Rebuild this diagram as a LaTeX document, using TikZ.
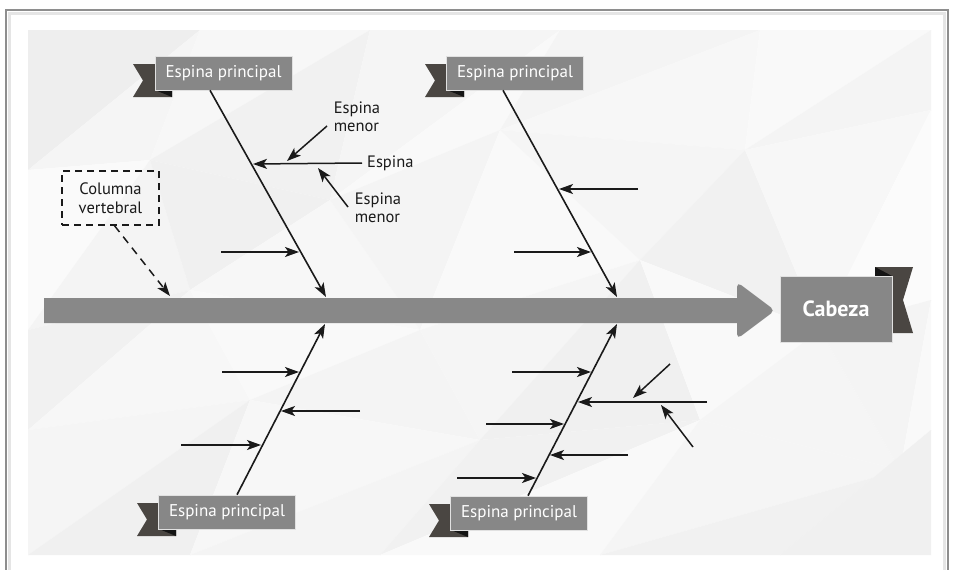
\documentclass[tikz,border=0pt]{standalone}
\usepackage{fontspec}
\setmainfont{PT Sans}
\usetikzlibrary{arrows.meta}

\definecolor{boxgray}{HTML}{878787}
\definecolor{tailgray}{HTML}{4A4642}
\definecolor{foldblack}{HTML}{141414}
\definecolor{bargray}{HTML}{888888}
\definecolor{framegray}{HTML}{8E8E8E}
\definecolor{inkc}{HTML}{1A1A1A}

\tikzset{
  lbl/.style={fill=boxgray, draw=white!75!boxgray, line width=0.6pt, text=white,
    font=\fontsize{17}{20}\selectfont, minimum width=137pt, minimum height=34pt, inner sep=0pt},
  headbox/.style={fill=boxgray, draw=white!75!boxgray, line width=0.6pt, text=white,
    font=\fontsize{22}{26}\selectfont\bfseries, minimum width=112pt, minimum height=66pt, inner sep=0pt},
  tip/.style={-{Stealth[length=14pt,width=10pt,inset=3.5pt]}},
  bone/.style={tip, line width=1.6pt, draw=inkc},
  minor/.style={tip, line width=1.5pt, draw=inkc},
  note/.style={font=\fontsize{16.5}{18}\selectfont, inner sep=0pt, align=left, text=inkc},
}

% ribbon tail left of a label box: #1 box left x, #2 box top y, #3 box bottom y
\newcommand\ribbontail[3]{%
  \fill[tailgray] (#1-22,#2+8) -- (#1+17,#2+8) -- (#1+17,#3+7) -- (#1-22,#3+7)
    -- (#1-12,{(#2+#3)/2+7.5}) -- cycle;
  \fill[foldblack] (#1,#3) -- (#1+17,#3) -- (#1+17,#3+7) -- cycle;}

\begin{document}
\begin{tikzpicture}[x=1pt,y=-1pt]
\useasboundingbox (0,0) rectangle (953,570);
\fill[white] (0,0) rectangle (953,570);

% page frame, open at the bottom
\draw[black!10, line width=2.5pt] (9.5,580) -- (9.5,13.5) -- (944.5,13.5) -- (944.5,580);
\draw[framegray, line width=1.5pt] (6,580) -- (6,10) -- (948,10) -- (948,580);

% low-poly background panel
\coordinate (A0) at (28,30);  \coordinate (A1) at (200,30);  \coordinate (A2) at (370,30);
\coordinate (A3) at (560,30); \coordinate (A4) at (760,30);  \coordinate (A5) at (931,30);
\coordinate (B0) at (28,170); \coordinate (B1) at (150,160); \coordinate (B2) at (330,200);
\coordinate (B3) at (500,130);\coordinate (B4) at (745,150); \coordinate (B5) at (931,110);
\coordinate (C0) at (28,330); \coordinate (C1) at (190,290); \coordinate (C2) at (420,330);
\coordinate (C3) at (640,260);\coordinate (C4) at (820,330); \coordinate (C5) at (931,300);
\coordinate (D0) at (28,430); \coordinate (D1) at (250,400); \coordinate (D2) at (480,440);
\coordinate (D3) at (700,420);\coordinate (D4) at (900,470); \coordinate (D5) at (931,430);
\coordinate (E0) at (28,555); \coordinate (E1) at (190,555); \coordinate (E2) at (380,555);
\coordinate (E3) at (600,555);\coordinate (E4) at (780,555); \coordinate (E5) at (931,555);
\begin{scope}
\clip (28,30) rectangle (931,555);
\foreach \p/\q/\r/\s in {
  A0/A1/B0/6.5, A1/B1/B0/4, A1/A2/B1/3, A2/B2/B1/5.5, A2/A3/B2/4, A3/B3/B2/2.5,
  A3/A4/B3/4.5, A4/B4/B3/3, A4/A5/B4/2.5, A5/B5/B4/4.5,
  B0/B1/C0/2, B1/C1/C0/4.5, B1/B2/C1/6, B2/C2/C1/3, B2/B3/C2/4.5, B3/C3/C2/2.5,
  B3/B4/C3/4, B4/C4/C3/5.5, B4/B5/C4/3, B5/C5/C4/1.5,
  C0/C1/D0/5.5, C1/D1/D0/3, C1/C2/D1/2.5, C2/D2/D1/4.5, C2/C3/D2/4, C3/D3/D2/6,
  C3/C4/D3/2.5, C4/D4/D3/4, C4/C5/D4/4.5, C5/D5/D4/2.5,
  D0/D1/E0/4, D1/E1/E0/6, D1/D2/E1/3, D2/E2/E1/4.5, D2/D3/E2/5.5, D3/E3/E2/2.5,
  D3/D4/E3/4, D4/E4/E3/5.5, D4/D5/E4/3, D5/E5/E4/6}
  \fill[black!\s] (\p) -- (\q) -- (\r) -- cycle;
\end{scope}

% spine arrow
\fill[bargray] (44,298) -- (737,298) [rounded corners=5pt] -- (737,282) -- (775,310.5)
  -- (737,339) [sharp corners] -- (737,323) -- (44,323) -- cycle;

% label ribbons and boxes
\ribbontail{155}{56}{90}
\ribbontail{447}{56}{90}
\ribbontail{159}{495}{529}
\ribbontail{451}{496}{530}
\node[lbl] (p1) at (223.5,73) {Espina principal};
\node[lbl] (p2) at (515,73) {Espina principal};
\node[lbl] (p3) at (227,512) {Espina principal};
\node[lbl] (p4) at (519,513) {Espina principal};

% head ribbon and box
\fill[tailgray] (875,267) -- (913,267) -- (903,300) -- (913,333) -- (875,333) -- cycle;
\fill[foldblack] (892,276) -- (875,276) -- (875,267) -- cycle;
\node[headbox] (hd) at (836,309) {Cabeza};

% spine callout
\node[draw=inkc, dash pattern=on 7pt off 5pt, line width=1.4pt, minimum width=97pt,
  minimum height=54pt, inner sep=0pt, align=center, text=inkc,
  font=\fontsize{16.5}{19}\selectfont] (col) at (110.5,198) {Columna\\vertebral};
\coordinate (sp) at (170,296);
\draw[minor, dash pattern=on 8pt off 6pt] ([xshift=4pt]col.south) -- (sp);

% main bones
\coordinate (b1) at (326,297);
\coordinate (b2) at (617,297);
\coordinate (b3) at (325,324);
\coordinate (b4) at (617,324);
\draw[bone] ([xshift=-13.5pt]p1.south) -- (b1);
\draw[bone] ([xshift=-12pt]p2.south) -- (b2);
\draw[bone] ([xshift=10pt]p3.north) -- (b3);
\draw[bone] ([xshift=9pt]p4.north) -- (b4);

% annotated bone
\node[note, anchor=west] (e0) at (367,163) {Espina};
\node[note] (m1) at (357,117) {Espina\\menor};
\node[note] (m2) at (378,208) {Espina\\menor};
\coordinate (t0) at (253,164);
\coordinate (m1s) at (327,126);  \coordinate (t1) at (287,161);
\coordinate (m2s) at (348,207);  \coordinate (t2) at (318,168);
\draw[minor] ([xshift=-5pt]e0.west) -- (t0);
\draw[minor] (m1s) -- (t1);
\draw[minor] (m2s) -- (t2);

% minor bones, upper left
\coordinate (u1a) at (221,252); \coordinate (u1b) at (299,252);
\draw[minor] (u1a) -- (u1b);

% minor bones, upper right
\coordinate (u2a) at (638,189); \coordinate (u2b) at (559,189);
\coordinate (u3a) at (514,252); \coordinate (u3b) at (591,252);
\draw[minor] (u2a) -- (u2b);
\draw[minor] (u3a) -- (u3b);

% minor bones, lower left
\coordinate (l1a) at (222,372); \coordinate (l1b) at (299,372);
\coordinate (l2a) at (360,411); \coordinate (l2b) at (281,411);
\coordinate (l3a) at (181,445); \coordinate (l3b) at (261,445);
\draw[minor] (l1a) -- (l1b);
\draw[minor] (l2a) -- (l2b);
\draw[minor] (l3a) -- (l3b);

% minor bones, lower right
\coordinate (r1a) at (512,372); \coordinate (r1b) at (591,372);
\coordinate (r2a) at (707,402); \coordinate (r2b) at (578,402);
\coordinate (r3a) at (670,364); \coordinate (r3b) at (633,398);
\coordinate (r4a) at (693,447); \coordinate (r4b) at (661,405);
\coordinate (r5a) at (486,424); \coordinate (r5b) at (564,424);
\coordinate (r6a) at (628,455); \coordinate (r6b) at (550,455);
\coordinate (r7a) at (457,478); \coordinate (r7b) at (536,478);
\draw[minor] (r1a) -- (r1b);
\draw[minor] (r2a) -- (r2b);
\draw[minor] (r3a) -- (r3b);
\draw[minor] (r4a) -- (r4b);
\draw[minor] (r5a) -- (r5b);
\draw[minor] (r6a) -- (r6b);
\draw[minor] (r7a) -- (r7b);
\end{tikzpicture}
\end{document}
